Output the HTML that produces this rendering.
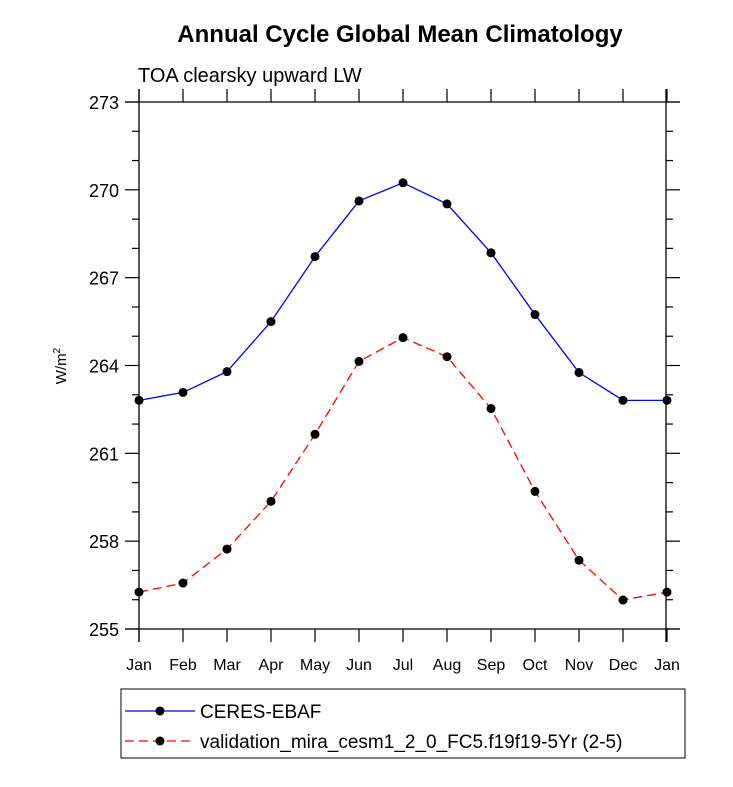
<!DOCTYPE html>
<html><head><meta charset="utf-8"><style>
body{margin:0;background:#fff;font-family:"Liberation Sans",sans-serif}
</style></head><body>
<svg id="c" width="733" height="782" xmlns="http://www.w3.org/2000/svg" font-family="Liberation Sans, sans-serif"></svg>
<script>
const months=["Jan","Feb","Mar","Apr","May","Jun","Jul","Aug","Sep","Oct","Nov","Dec","Jan"];
const ceres=[262.81,263.08,263.79,265.5,267.72,269.62,270.24,269.52,267.85,265.74,263.76,262.81,262.81];
const model=[256.26,256.57,257.73,259.36,261.65,264.14,264.95,264.3,262.53,259.7,257.35,255.99,256.26];
const yTicks=[255,258,261,264,267,270,273];
const NS="http://www.w3.org/2000/svg";
const svg=document.getElementById('c');
const L=139,R=666,T=102,B=629,x0=139,dx=44;
const X=i=>x0+i*dx;
const Y=v=>B-(v-255)/18*(B-T);
function el(t,a,p){const e=document.createElementNS(NS,t);for(const k in a)e.setAttribute(k,a[k]);(p||svg).appendChild(e);return e;}
let t=el('text',{x:400,y:42,'text-anchor':'middle','font-size':24,'font-weight':'bold'});t.textContent='Annual Cycle Global Mean Climatology';


t=el('text',{x:138,y:82,'font-size':20});t.textContent='TOA clearsky upward LW';


const fr=el('g',{stroke:'#000','stroke-width':1.3});


el('line',{x1:L-14,x2:R+14,y1:T,y2:T},fr);
el('line',{x1:L-14,x2:R+14,y1:B,y2:B},fr);
el('line',{x1:L,x2:L,y1:T-13,y2:B+13},fr);
el('line',{x1:R,x2:R,y1:T-13,y2:B+13},fr);
for(let v=255;v<=273;v++){const y=Y(v);const maj=(v-255)%3===0;const len=maj?14:7;
 el('line',{x1:L-len,x2:L,y1:y,y2:y,stroke:'#000','stroke-width':1.2});
 el('line',{x1:R,x2:R+len,y1:y,y2:y,stroke:'#000','stroke-width':1.2});}
yTicks.forEach(v=>{const e=el('text',{x:L-20,y:Y(v)+7,'text-anchor':'end','font-size':18});e.textContent=v;

});
months.forEach((m,i)=>{const x=X(i);
 el('line',{x1:x,x2:x,y1:B,y2:B+13,stroke:'#000','stroke-width':1.2});
 el('line',{x1:x,x2:x,y1:T-13,y2:T,stroke:'#000','stroke-width':1.2});
 const e=el('text',{x:x,y:B+41,'text-anchor':'middle','font-size':16});e.textContent=m;
 
 });
t=el('text',{transform:'translate(66,366) rotate(-90)','text-anchor':'middle','font-size':15});
t.innerHTML='W/m<tspan font-size="10" dy="-6">2</tspan>';


function series(vals,col,dash,name){
 const p=el('polyline',{points:vals.map((v,i)=>X(i)+','+Y(v)).join(' '),fill:'none',stroke:col,'stroke-width':1.3,'stroke-dasharray':dash});
 
 
 vals.forEach((v,i)=>{const c=el('circle',{cx:X(i),cy:Y(v),r:4.5,fill:'#000'});
 
 });
}
series(ceres,'#0000ff','none','ceres');
series(model,'#ff0000','9,5','model');
const lg=el('rect',{x:121,y:689,width:564,height:69,fill:'none',stroke:'#000','stroke-width':1});


[['CERES-EBAF','#0000ff','none',711],['validation_mira_cesm1_2_0_FC5.f19f19-5Yr (2-5)','#ff0000','9,5',741]].forEach(([n,c,d,y])=>{
 el('line',{x1:125,x2:195,y1:y,y2:y,stroke:c,'stroke-width':1.3,'stroke-dasharray':d});
 el('circle',{cx:160,cy:y,r:4.5,fill:'#000'});
 const e=el('text',{x:200,y:y+7,'font-size':19});e.textContent=n;
 
 });
</script>
</body></html>
